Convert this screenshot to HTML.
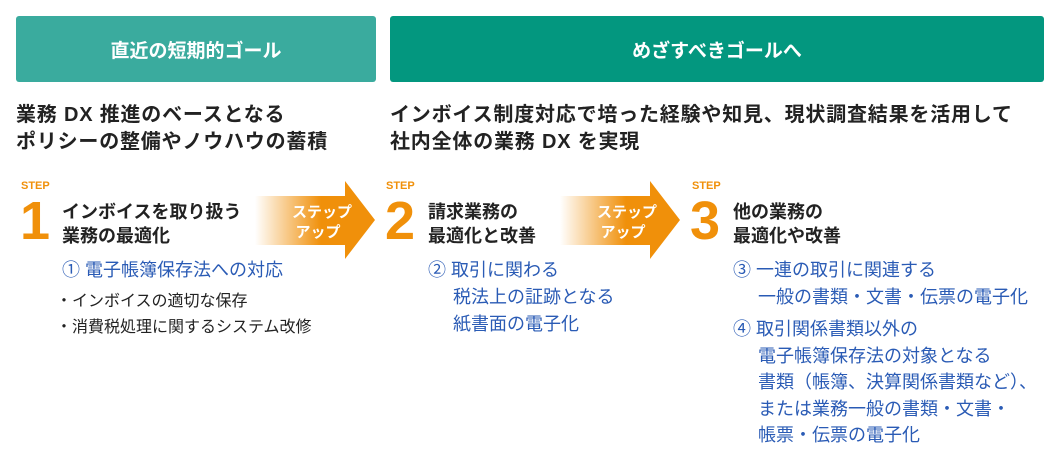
<!DOCTYPE html>
<html><head><meta charset="utf-8"><style>
body{margin:0;width:1060px;height:462px;background:#fff;position:relative;overflow:hidden;font-family:"Liberation Sans","Noto Sans CJK JP",sans-serif;}
.a{position:absolute;white-space:nowrap;}
.hd{position:absolute;color:#fff;font-size:19px;font-weight:bold;display:flex;align-items:center;justify-content:center;border-radius:3px;}
.t{font-size:20px;font-weight:bold;color:#222;line-height:27px;letter-spacing:0.8px;}
.step{font-size:11px;font-weight:bold;color:#f0900a;}
.num{font-size:54px;font-weight:bold;color:#f0900a;line-height:54px;}
.st{font-size:18px;font-weight:bold;color:#222;line-height:24px;}
.bl{font-size:18px;color:#2a5bb5;line-height:27px;}
.bk{font-size:16px;color:#222;line-height:26px;}
</style></head><body>
<div class="hd" style="left:16px;top:16px;width:360px;height:66px;background:#3aab9e;">直近の短期的ゴール</div>
<div class="hd" style="left:390px;top:16px;width:654px;height:66px;background:#03977f;">めざすべきゴールへ</div>
<div class="a t" style="left:16px;top:102px;">業務 DX 推進のベースとなる<br>ポリシーの整備やノウハウの蓄積</div>
<div class="a t" style="left:390px;top:102px;">インボイス制度対応で培った経験や知見、現状調査結果を活用して<br>社内全体の業務 DX を実現</div>

<svg class="a" style="left:0;top:0" width="1060" height="462">
<defs><linearGradient id="g" x1="0" x2="1"><stop offset="0" stop-color="#f0900a" stop-opacity="0"/><stop offset="0.55" stop-color="#f0900a"/></linearGradient></defs>
<polygon points="255,196 345,196 345,181 375,220 345,259 345,245 255,245" fill="url(#g)"/>
<polygon points="560,196 650,196 650,181 680,220 650,259 650,245 560,245" fill="url(#g)"/>
<text x="322" y="217" fill="#fff" font-size="15" font-weight="bold" text-anchor="middle" font-family="Liberation Sans,Noto Sans CJK JP,sans-serif">ステップ</text>
<text x="318" y="237" fill="#fff" font-size="15" font-weight="bold" text-anchor="middle" font-family="Liberation Sans,Noto Sans CJK JP,sans-serif">アップ</text>
<text x="627" y="217" fill="#fff" font-size="15" font-weight="bold" text-anchor="middle" font-family="Liberation Sans,Noto Sans CJK JP,sans-serif">ステップ</text>
<text x="623" y="237" fill="#fff" font-size="15" font-weight="bold" text-anchor="middle" font-family="Liberation Sans,Noto Sans CJK JP,sans-serif">アップ</text>
</svg>

<div class="a step" style="left:21px;top:180px;">STEP</div>
<div class="a num" style="left:20px;top:194px;">1</div>
<div class="a st" style="left:62px;top:200px;">インボイスを取り扱う<br>業務の最適化</div>
<div class="a bl" style="left:62px;top:257px;">① 電子帳簿保存法への対応</div>
<div class="a bk" style="left:56px;top:289px;">・インボイスの適切な保存<br>・消費税処理に関するシステム改修</div>

<div class="a step" style="left:386px;top:180px;">STEP</div>
<div class="a num" style="left:385px;top:194px;">2</div>
<div class="a st" style="left:428px;top:200px;">請求業務の<br>最適化と改善</div>
<div class="a bl" style="left:428px;top:257px;">② 取引に関わる<br>&nbsp;&nbsp;&nbsp;&nbsp;&nbsp;税法上の証跡となる<br>&nbsp;&nbsp;&nbsp;&nbsp;&nbsp;紙書面の電子化</div>

<div class="a step" style="left:692px;top:180px;">STEP</div>
<div class="a num" style="left:690px;top:194px;">3</div>
<div class="a st" style="left:733px;top:200px;">他の業務の<br>最適化や改善</div>
<div class="a bl" style="left:733px;top:257px;">③ 一連の取引に関連する<br>&nbsp;&nbsp;&nbsp;&nbsp;&nbsp;一般の書類・文書・伝票の電子化</div>
<div class="a bl" style="left:733px;top:316px;line-height:26.5px;">④ 取引関係書類以外の<br>&nbsp;&nbsp;&nbsp;&nbsp;&nbsp;電子帳簿保存法の対象となる<br>&nbsp;&nbsp;&nbsp;&nbsp;&nbsp;書類（帳簿、決算関係書類など）、<br>&nbsp;&nbsp;&nbsp;&nbsp;&nbsp;または業務一般の書類・文書・<br>&nbsp;&nbsp;&nbsp;&nbsp;&nbsp;帳票・伝票の電子化</div>
</body></html>
